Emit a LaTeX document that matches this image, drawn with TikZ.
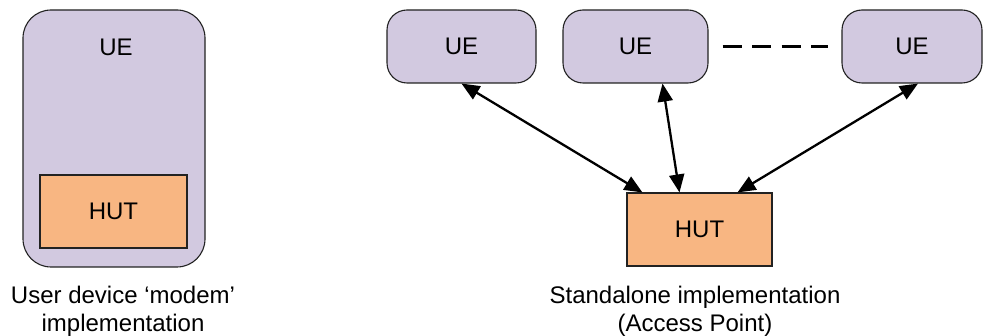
\documentclass[tikz,border=0pt]{standalone}
\usepackage{fontspec}
\setmainfont{Liberation Sans}
\usetikzlibrary{arrows.meta}
\definecolor{uefill}{HTML}{D2C9E0}
\definecolor{hutfill}{HTML}{F8B682}
\definecolor{edge}{HTML}{222222}
\tikzset{
  txt/.style={font=\fontsize{24}{28}\selectfont},
  uebox/.style={draw=edge, line width=1.1pt, fill=uefill, rounded corners=20pt,
    minimum height=73pt, inner sep=0pt, txt},
  hutbox/.style={draw=edge, line width=1.1pt, fill=hutfill,
    minimum width=146pt, minimum height=73pt, inner sep=0pt, txt},
  link/.style={line width=2.3pt, {Triangle[length=18pt,width=15pt]}-{Triangle[length=18pt,width=15pt]}},
  caption/.style={txt, align=center}
}
\begin{document}
\begin{tikzpicture}[x=1pt,y=-1pt]
\useasboundingbox (0,0) rectangle (983,336);

% user device with embedded HUT
\node[uebox, rounded corners=28pt, minimum width=182pt, minimum height=257pt] (bigue) at (114,138.5) {};
\node[txt] (bigtxt) at (116,47) {UE};
\node[hutbox, minimum width=147pt] (hutin) at (113.5,211.5) {HUT};
\node[caption] (capleft) at (123,311) {User device ‘modem’\\implementation};

% standalone access point
\node[uebox, minimum width=149pt] (ue1) at (461.5,46.5) {UE};
\node[uebox, minimum width=145pt] (ue2) at (635.5,46.5) {UE};
\node[uebox, minimum width=140pt] (ue3) at (912,46.5) {UE};
\node[hutbox, minimum width=145pt] (hut) at (699.5,229.5) {HUT};
\node[caption] (capright) at (695,311) {Standalone implementation\\(Access Point)};

\draw[line width=2.3pt, dash pattern=on 19pt off 10.5pt]
  ([xshift=14pt]ue2.east) -- ([xshift=-13pt]ue3.west);

\draw[link] (ue1.south) -- ([xshift=16pt]hut.north west);
\draw[link] ([xshift=27pt]ue2.south) -- ([xshift=-20pt]hut.north);
\draw[link] ([xshift=6pt]ue3.south) -- ([xshift=38pt]hut.north);
\end{tikzpicture}
\end{document}
